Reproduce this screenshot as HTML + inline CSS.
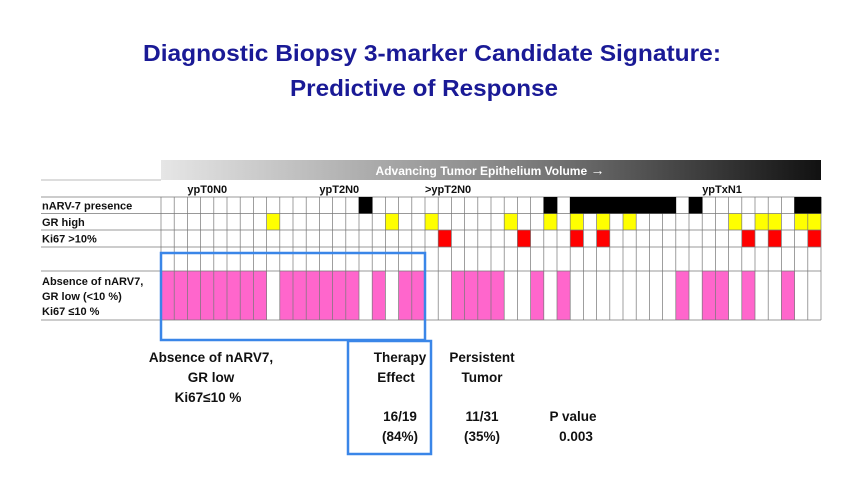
<!DOCTYPE html>
<html><head><meta charset="utf-8"><style>
body{margin:0;background:#fff;}
svg{display:block;font-family:"Liberation Sans",sans-serif;}
</style></head><body>
<svg id="c" width="864" height="486" viewBox="0 0 864 486">
<defs><linearGradient id="g" x1="0" x2="1"><stop offset="0" stop-color="#e6e6e6"/><stop offset="0.5" stop-color="#8a8a8a"/><stop offset="1" stop-color="#111"/></linearGradient></defs>
<text x="432" y="61" text-anchor="middle" font-size="23" font-weight="bold" fill="#1a1a96" textLength="578" lengthAdjust="spacingAndGlyphs">Diagnostic Biopsy 3-marker Candidate Signature:</text>
<text x="424" y="96" text-anchor="middle" font-size="23" font-weight="bold" fill="#1a1a96" textLength="268" lengthAdjust="spacingAndGlyphs">Predictive of Response</text>
<rect x="161" y="160" width="660" height="20" fill="url(#g)"/>
<text x="490" y="175" text-anchor="middle" font-size="12" font-weight="bold" fill="#fff">Advancing Tumor Epithelium Volume <tspan font-size="14" font-weight="bold">→</tspan></text>
<line x1="41" y1="180" x2="161" y2="180" stroke="#bbb"/>
<g id="grid"></g>
<rect x="161" y="253" width="264" height="87" fill="none" stroke="#3a86e8" stroke-width="2.5"/>
<rect x="348" y="341" width="83" height="113" fill="none" stroke="#3a86e8" stroke-width="2.5"/>
<g font-size="13.5" font-weight="bold" fill="#111" text-anchor="middle">
<text x="211" y="362">Absence of nARV7,</text>
<text x="211" y="382">GR low</text>
<text x="208" y="402">Ki67≤10 %</text>
<text x="400" y="362">Therapy</text>
<text x="396" y="382">Effect</text>
<text x="482" y="362">Persistent</text>
<text x="482" y="382">Tumor</text>
<text x="400" y="421">16/19</text>
<text x="400" y="441">(84%)</text>
<text x="482" y="421">11/31</text>
<text x="482" y="441">(35%)</text>
<text x="573" y="421">P value</text>
<text x="576" y="441">0.003</text>
</g>
</svg>
<script>
const nCols = 50;
const narvCols = [15,29,31,32,33,34,35,36,37,38,40,48,49];
const grCols = [8,17,20,26,29,31,33,35,43,45,46,48,49];
const ki67Cols = [21,27,31,33,44,46,49];
const pinkCols = [0,1,2,3,4,5,6,7,9,10,11,12,13,14,16,18,19,22,23,24,25,28,30,39,41,42,44,47];
const groupLabels = ["ypT0N0","ypT2N0",">ypT2N0","ypTxN1"];
const groupCols = [2,12,20,41];
const rowLabels = ["nARV-7 presence","GR high","Ki67 >10%"];

const NS="http://www.w3.org/2000/svg";
const g=document.getElementById('grid');
const x0=161,x1=821,cw=(x1-x0)/nCols;
const colX=i=>x0+i*cw;
const rowsY=[197,213.5,230,247,271,320];
function mk(t,a){const e=document.createElementNS(NS,t);for(const k in a)e.setAttribute(k,a[k]);g.appendChild(e);return e;}
const fills=[[grCols,'#ffff00'],[ki67Cols,'#ff0000']];
fills.forEach(([arr,c],k)=>{const r=k+1;arr.forEach(i=>{
 const e=mk('rect',{x:colX(i),y:rowsY[r],width:cw,height:rowsY[r+1]-rowsY[r],fill:c});
 
 
});});
pinkCols.forEach(i=>{
 const e=mk('rect',{x:colX(i),y:rowsY[4],width:cw,height:rowsY[5]-rowsY[4],fill:'#ff66cc'});
 
 
});
for(let i=0;i<=nCols;i++){
 const e=mk('line',{x1:colX(i),x2:colX(i),y1:197,y2:320,stroke:'#777','stroke-width':0.7});
 
 
}
rowsY.forEach(y=>{
 const e=mk('line',{x1:41,x2:x1,y1:y,y2:y,stroke:'#777','stroke-width':0.7});
 
 
});
narvCols.forEach(i=>{
 const e=mk('rect',{x:colX(i)-0.3,y:rowsY[0],width:cw+0.6,height:rowsY[1]-rowsY[0],fill:'#000'});
 
 
});
rowLabels.forEach((t,r)=>{
 const e=mk('text',{x:42,y:rowsY[r]+12.5,'font-size':11,'font-weight':'bold',fill:'#111'});e.textContent=t;
 
 
});
["Absence of nARV7,","GR low (<10 %)"," Ki67 ≤10 %"].forEach((t,k)=>{
 const e=mk('text',{x:42,y:285+k*15,'font-size':11,'font-weight':'bold',fill:'#111'});e.textContent=t;
 
 
});
groupLabels.forEach((t,k)=>{
 const e=mk('text',{x:colX(groupCols[k]),y:193,'font-size':11,'font-weight':'bold',fill:'#111'});e.textContent=t;
 
 
});
</script>
</body></html>
